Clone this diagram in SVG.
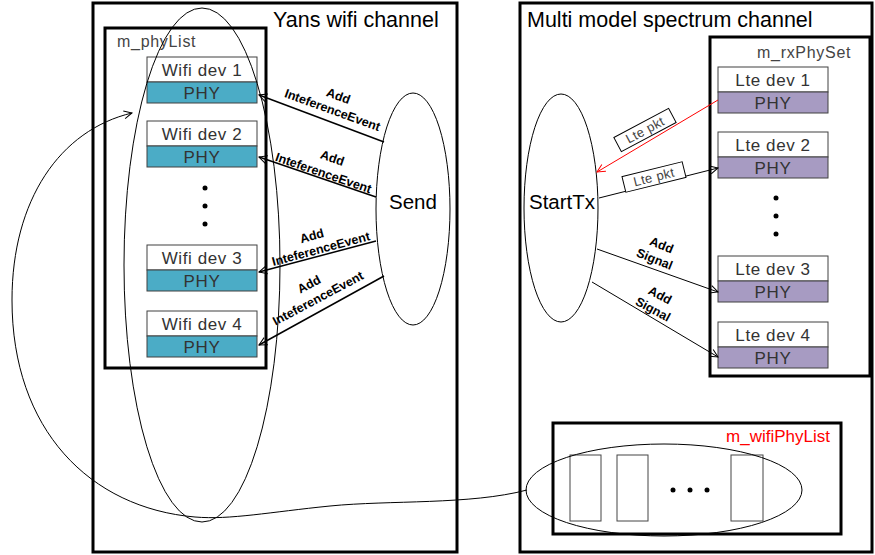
<svg xmlns="http://www.w3.org/2000/svg" width="875" height="555" viewBox="0 0 875 555">
<style>
.frame{fill:none;stroke:#000;stroke-width:3}
.thin{fill:none;stroke:#000;stroke-width:1}
.dev{fill:#fff;stroke:#404040;stroke-width:1}
.wphy{fill:#4BACC6;stroke:#404040;stroke-width:1}
.lphy{fill:#A79BC2;stroke:#404040;stroke-width:1}
.dt{font-family:"Liberation Sans",Arial,sans-serif;font-size:17px;letter-spacing:0.6px;fill:#333;text-anchor:middle}
.title{font-family:"Liberation Sans",Arial,sans-serif;font-size:21.5px;fill:#000}
.lbl{font-family:"Liberation Sans",Arial,sans-serif;font-size:16px;letter-spacing:0.7px;fill:#444}
.al{font-family:"Liberation Sans",Arial,sans-serif;font-size:12.5px;font-weight:bold;fill:#000;text-anchor:middle}
.pk{font-family:"Liberation Sans",Arial,sans-serif;font-size:13px;letter-spacing:0.4px;fill:#444;text-anchor:middle}
.big{font-family:"Liberation Sans",Arial,sans-serif;font-size:20.5px;fill:#000;text-anchor:middle}
.ln{fill:none;stroke:#000;stroke-width:1.5}
.ln1{fill:none;stroke:#000;stroke-width:1}
</style>
<defs>
<marker id="ah" markerWidth="10" markerHeight="10" refX="9" refY="5" orient="auto" markerUnits="userSpaceOnUse">
<path d="M1,1 L9,5 L1,9" fill="none" stroke="#000" stroke-width="1"/>
</marker>
<marker id="ahr" markerWidth="10" markerHeight="10" refX="9" refY="5" orient="auto" markerUnits="userSpaceOnUse">
<path d="M1,1 L9,5 L1,9" fill="none" stroke="#f00" stroke-width="1"/>
</marker>
</defs>
<rect width="875" height="555" fill="#fff"/>

<g id="yans">
<rect class="frame" x="93" y="3" width="364" height="549"/>
<text class="title" x="273" y="27">Yans wifi channel</text>
</g>
<g id="phyList">
<rect class="frame" x="105" y="28" width="161" height="340"/>
<text class="lbl" x="117" y="47">m_phyList</text>
</g>
<g id="wifi1"><rect class="dev" x="147" y="57" width="110" height="25"/><text class="dt" x="202" y="76">Wifi dev 1</text><rect class="wphy" x="147" y="82" width="110" height="21"/><text class="dt" x="202" y="99">PHY</text></g>
<g id="wifi2"><rect class="dev" x="147" y="121" width="110" height="25"/><text class="dt" x="202" y="140">Wifi dev 2</text><rect class="wphy" x="147" y="146" width="110" height="21"/><text class="dt" x="202" y="163">PHY</text></g>
<g id="wifidots"><circle cx="205" cy="188" r="2.5"/><circle cx="205" cy="206" r="2.5"/><circle cx="205" cy="224" r="2.5"/></g>
<g id="wifi3"><rect class="dev" x="147" y="245" width="110" height="25"/><text class="dt" x="202" y="264">Wifi dev 3</text><rect class="wphy" x="147" y="270" width="110" height="21"/><text class="dt" x="202" y="287">PHY</text></g>
<g id="wifi4"><rect class="dev" x="147" y="311" width="110" height="25"/><text class="dt" x="202" y="330">Wifi dev 4</text><rect class="wphy" x="147" y="336" width="110" height="21"/><text class="dt" x="202" y="353">PHY</text></g>
<g id="bigEllipse"><ellipse class="thin" cx="202" cy="265" rx="78" ry="257"/></g>
<g id="send"><ellipse class="thin" cx="413" cy="209" rx="37" ry="116"/><text class="big" x="413" y="209">Send</text></g>

<g id="multi">
<rect class="frame" x="520" y="3" width="352" height="549"/>
<text class="title" x="527" y="27">Multi model spectrum channel</text>
</g>
<g id="rxPhySet">
<rect class="frame" x="710" y="37" width="160" height="339"/>
<text class="lbl" x="757" y="58">m_rxPhySet</text>
</g>
<g id="lte1"><rect class="dev" x="718" y="67" width="110" height="25"/><text class="dt" x="773" y="86">Lte dev 1</text><rect class="lphy" x="718" y="92" width="110" height="21"/><text class="dt" x="773" y="109">PHY</text></g>
<g id="lte2"><rect class="dev" x="718" y="132" width="110" height="25"/><text class="dt" x="773" y="151">Lte dev 2</text><rect class="lphy" x="718" y="157" width="110" height="21"/><text class="dt" x="773" y="174">PHY</text></g>
<g id="ltedots"><circle cx="776" cy="198" r="2.5"/><circle cx="776" cy="216" r="2.5"/><circle cx="776" cy="234" r="2.5"/></g>
<g id="lte3"><rect class="dev" x="718" y="256" width="110" height="25"/><text class="dt" x="773" y="275">Lte dev 3</text><rect class="lphy" x="718" y="281" width="110" height="21"/><text class="dt" x="773" y="298">PHY</text></g>
<g id="lte4"><rect class="dev" x="718" y="322" width="110" height="25"/><text class="dt" x="773" y="341">Lte dev 4</text><rect class="lphy" x="718" y="347" width="110" height="21"/><text class="dt" x="773" y="364">PHY</text></g>
<g id="startTx"><ellipse class="thin" cx="561" cy="208" rx="37" ry="114"/><text class="big" x="562" y="209">StartTx</text></g>

<g id="wifiPhyList">
<rect class="frame" x="553" y="423" width="288" height="111"/>
<text x="830" y="442" font-family="Liberation Sans,Arial,sans-serif" font-size="17" fill="#f00" text-anchor="end">m_wifiPhyList</text>
<rect x="570" y="455" width="31" height="66" fill="#fff" stroke="#444" stroke-width="1"/>
<rect x="617" y="455" width="31" height="66" fill="#fff" stroke="#444" stroke-width="1"/>
<rect x="731" y="455" width="32" height="66" fill="#fff" stroke="#444" stroke-width="1"/>
<circle cx="673" cy="490" r="2.5"/><circle cx="690" cy="490" r="2.5"/><circle cx="707" cy="490" r="2.5"/>
<ellipse class="thin" cx="664" cy="490" rx="138" ry="46"/>
</g>

<g id="connectors">
<line class="ln" x1="384" y1="142" x2="259" y2="95" marker-end="url(#ah)"/>
<line class="ln" x1="376" y1="197" x2="259" y2="157" marker-end="url(#ah)"/>
<line class="ln" x1="376" y1="241" x2="259" y2="272" marker-end="url(#ah)"/>
<line class="ln" x1="384" y1="276" x2="259" y2="345" marker-end="url(#ah)"/>
<text class="al" transform="translate(337,100) rotate(20)">Add</text>
<text class="al" transform="translate(331,114) rotate(20)">InteferenceEvent</text>
<text class="al" transform="translate(331,162) rotate(19)">Add</text>
<text class="al" transform="translate(322,177) rotate(19)">InteferenceEvent</text>
<text class="al" transform="translate(313,240) rotate(-15)">Add</text>
<text class="al" transform="translate(322,253) rotate(-15)">InteferenceEvent</text>
<text class="al" transform="translate(311,288) rotate(-28)">Add</text>
<text class="al" transform="translate(320,302) rotate(-28)">InteferenceEvent</text>

<line x1="718" y1="100" x2="597" y2="172" stroke="#f00" stroke-width="1" marker-end="url(#ahr)"/>
<g transform="translate(645,130) rotate(-28)"><rect x="-31" y="-8" width="62" height="16" fill="#fff" stroke="#000" stroke-width="1"/><text class="pk" x="0" y="4.5">Lte pkt</text></g>
<line class="ln1" x1="599" y1="198" x2="718" y2="168" marker-end="url(#ah)"/>
<g transform="translate(654,177) rotate(-14)"><rect x="-31" y="-8" width="62" height="16" fill="#fff" stroke="#000" stroke-width="1"/><text class="pk" x="0" y="4.5">Lte pkt</text></g>
<line class="ln1" x1="597" y1="249" x2="718" y2="292" marker-end="url(#ah)"/>
<line class="ln1" x1="592" y1="282" x2="718" y2="357" marker-end="url(#ah)"/>
<text class="al" transform="translate(660,249) rotate(22)">Add</text>
<text class="al" transform="translate(653,263) rotate(22)">Signal</text>
<text class="al" transform="translate(658,299) rotate(28)">Add</text>
<text class="al" transform="translate(651,313) rotate(28)">Signal</text>

<path class="ln1" d="M527,490 C470,505 390,500 330,506 C270,512 230,520 195,517 C90,508 12,430 12,300 C12,200 60,130 132,113" marker-end="url(#ah)"/>
</g>
</svg>
